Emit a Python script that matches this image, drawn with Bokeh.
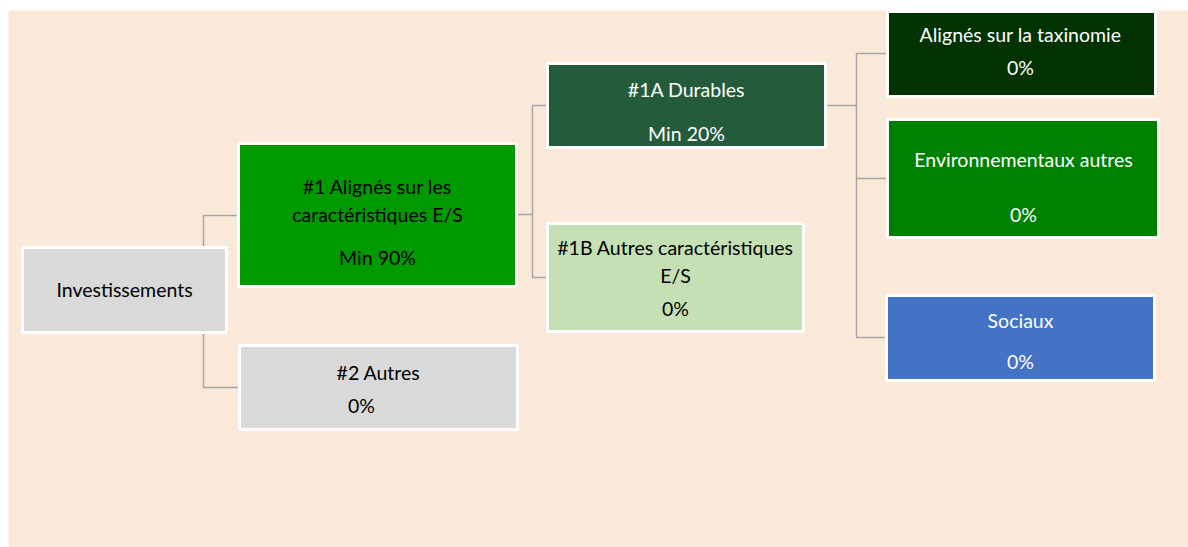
from bokeh.plotting import figure
from bokeh.models import Range1d, ColumnDataSource
from bokeh.core.properties import value
from bokeh.embed import file_html
from bokeh.resources import INLINE

# ---- data (labels / values) ----
node_labels = [
    "Investissements",
    "#1 Alignés sur les\ncaractéristiques E/S",
    "#2 Autres",
    "#1A Durables",
    "#1B Autres caractéristiques\nE/S",
    "Alignés sur la taxinomie",
    "Environnementaux autres",
    "Sociaux",
]
node_values = ["", "Min 90%", "0%", "Min 20%", "0%", "0%", "0%", "0%"]

# ---- layout (pixel positions on page) ----
box_left = [22, 238, 239, 547, 547, 887, 887, 886]
box_right = [226, 516, 517, 825, 803, 1155, 1158, 1154]
box_top = [247, 143, 345, 63, 223, 11, 119, 295]
box_bottom = [332, 286, 429, 147, 331, 96, 237, 380]
box_fill = ["#D9D9D9", "#009900", "#D9D9D9", "#245B3B", "#C5E0B4", "#003300", "#008000", "#4472C4"]
text_col = ["#000000", "#000000", "#000000", "#FFFFFF", "#000000", "#FFFFFF", "#FFFFFF", "#FFFFFF"]
label_x = [124, 377, 378, 686, 675, 1020, 1023, 1020]
label_y = [289, 200, 372, 89, 261, 34, 159, 320]
value_x = [124, 377, 361, 686, 675, 1020, 1023, 1020]
value_y = [289, 257, 405, 133, 308, 67, 214, 361]

# connectors
conn_xs = [
    [237, 203, 203, 238],
    [516, 532],
    [547, 532, 532, 547],
    [825, 856],
    [887, 856, 856, 887],
    [856, 887],
]
conn_ys = [
    [215, 215, 387, 387],
    [214, 214],
    [105, 105, 277, 277],
    [105, 105],
    [53, 53, 337, 337],
    [178, 178],
]

W, H = 1188, 547
p = figure(width=W, height=H, output_backend="svg", toolbar_location=None,
           x_range=Range1d(0, W), y_range=Range1d(H, 0),
           min_border=0, outline_line_color=None)
p.axis.visible = False
p.grid.visible = False
p.background_fill_color = "white"
p.border_fill_color = "white"

# background panel
p.quad(left=[8], right=[1188], top=[10], bottom=[547], fill_color="#FAE8D8", line_color=None)

p.multi_line(xs=conn_xs, ys=conn_ys, line_color="#A6A6A6", line_width=1.5)

src = ColumnDataSource(dict(l=box_left, r=box_right, t=box_top, b=box_bottom, f=box_fill))
p.quad(left="l", right="r", top="t", bottom="b", fill_color="f", line_color="white",
       line_width=3, source=src)

font = value("Lato")
lsrc = ColumnDataSource(dict(x=label_x, y=label_y, t=node_labels, c=text_col))
p.text(x="x", y="y", text="t", text_color="c", text_align="center", text_baseline="middle",
       text_font=font, text_font_size="19.5px", text_line_height=1.2, source=lsrc)
vsrc = ColumnDataSource(dict(x=value_x, y=value_y, t=node_values, c=text_col))
p.text(x="x", y="y", text="t", text_color="c", text_align="center", text_baseline="middle",
       text_font=font, text_font_size="19.5px", source=vsrc)

open("out.html", "w").write(file_html(p, INLINE))
